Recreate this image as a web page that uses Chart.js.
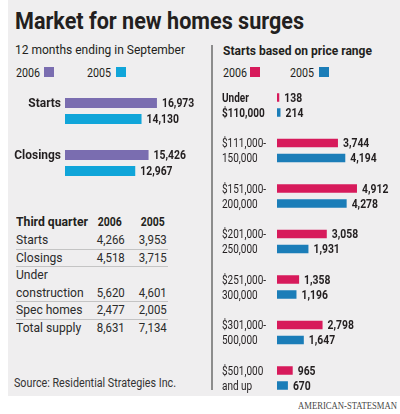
<!DOCTYPE html>
<html>
<head>
<meta charset="utf-8">
<script src="https://cdn.jsdelivr.net/npm/chart.js@4"></script>
<style>
  body { margin: 0; width: 400px; height: 414px; background: #fff; position: relative; overflow: hidden;
         font-family: Roboto, "Open Sans", sans-serif; color: #231f20; }
  .t { position: absolute; white-space: nowrap; line-height: 1; }
  #panel { position: absolute; left: 8px; top: 0; width: 392px; height: 396px; background: #efeeef; }
  #title { left: 15px; top: 10px; font-size: 23px; font-weight: bold; }
  #sub { left: 15px; top: 43px; font-size: 13px; }
  #head2 { left: 223px; top: 44px; font-size: 13px; font-weight: bold; }
  .leg { font-size: 13px; top: 66px; }
  .sw { position: absolute; width: 10px; height: 10px; top: 67px; }
  #divider { position: absolute; left: 211px; top: 45px; width: 1.5px; height: 345px; background: #8c8c8c; }
  .cell { font-size: 13px; color: #2b2b2b; }
  .hd { font-weight: bold; color: #231f20; }
  .rule { position: absolute; left: 16px; width: 152px; height: 1px; background: #c4c4c4; }
  #source { left: 14px; top: 377px; font-size: 12px; color: #333; }
  #foot { left: 298px; top: 401px; font-size: 10px; color: #4a4a4a; font-family: "Liberation Serif", serif; }
  canvas { position: absolute; }
</style>
</head>
<body>
<div id="panel"></div>
<div class="t" id="title">Market for new homes surges</div>
<div class="t" id="sub">12 months ending in September</div>
<div class="t" id="head2">Starts based on price range</div>
<div id="divider"></div>
<div id="legends"></div>
<div id="table"></div>
<div class="t" id="source">Source: Residential Strategies Inc.</div>
<div class="t" id="foot">AMERICAN-STATESMAN</div>
<canvas id="c1" width="210" height="120" style="left:0;top:80px"></canvas>
<canvas id="c2" width="188" height="340" style="left:212px;top:70px"></canvas>
<script>
// 12 months ending in September
const yearCats = ['Starts', 'Closings'];
const year2006 = [16973, 15426];
const year2005 = [14130, 12967];

// starts based on price range
const priceCats = [['Under', '$110,000'], ['$111,000-', '150,000'], ['$151,000-', '200,000'],
  ['$201,000-', '250,000'], ['$251,000-', '300,000'], ['$301,000-', '500,000'], ['$501,000', 'and up']];
const price2006 = [138, 3744, 4912, 3058, 1358, 2798, 965];
const price2005 = [214, 4194, 4278, 1931, 1196, 1647, 670];

// third quarter table
const quarterRows = ['Starts', 'Closings', ['Under', 'construction'], 'Spec homes', 'Total supply'];
const quarter2006 = [4266, 4518, 5620, 2477, 8631];
const quarter2005 = [3953, 3715, 4601, 2005, 7134];

const purple = '#7a6db0', cyan = '#10a5d9', crimson = '#d71a5b', blue = '#1b7db8';

function fit(el, w, origin) {
  el.style.transformOrigin = (origin || 'left') + ' top';
  el.style.transform = 'scaleX(' + (w / el.getBoundingClientRect().width) + ')';
}
function squeeze(el, r, origin) {
  el.style.transformOrigin = (origin || 'left') + ' top';
  el.style.transform = 'scaleX(' + r + ')';
}
function addText(parent, txt, cls, left, top, opts) {
  let d = document.createElement('div');
  d.className = 't ' + cls;
  d.textContent = txt;
  d.style.top = top + 'px';
  if (opts && opts.right != null) d.style.right = (400 - opts.right) + 'px';
  else d.style.left = left + 'px';
  parent.appendChild(d);
  return d;
}

fit(document.getElementById('title'), 289);
fit(document.getElementById('sub'), 170);
fit(document.getElementById('head2'), 149);
fit(document.getElementById('source'), 162);
fit(document.getElementById('foot'), 99);

// legends
let legends = document.getElementById('legends');
[[16, 44, '2006', purple], [87, 116, '2005', cyan], [223, 250, '2006', crimson], [290, 319, '2005', blue]].forEach(l => {
  let t = addText(legends, l[2], 'leg', l[0], 66);
  fit(t, 24);
  let s = document.createElement('div');
  s.className = 'sw';
  s.style.left = l[1] + 'px';
  s.style.background = l[3];
  legends.appendChild(s);
});

// table
let table = document.getElementById('table');
fit(addText(table, 'Third quarter', 'cell hd', 16, 215), 72);
fit(addText(table, '2006', 'cell hd', 0, 215, {right: 122}), 24, 'right');
fit(addText(table, '2005', 'cell hd', 0, 215, {right: 165}), 24, 'right');
let y = 240;
quarterRows.forEach((row, i) => {
  if (i > 0) {
    let r = document.createElement('div');
    r.className = 'rule';
    r.style.top = (y - 9) + 'px';
    table.appendChild(r);
  }
  let lines = Array.isArray(row) ? row : [row];
  lines.forEach((ln, j) => {
    squeeze(addText(table, ln, 'cell', 16, y - 7), 0.93);
    if (j < lines.length - 1) y += 17.5;
  });
  squeeze(addText(table, quarter2006[i].toLocaleString('en-US'), 'cell', 0, y - 7, {right: 125}), 0.88, 'right');
  squeeze(addText(table, quarter2005[i].toLocaleString('en-US'), 'cell', 0, y - 7, {right: 167}), 0.88, 'right');
  y += 17.5;
});

// value and category labels beside the bars
const barLabels = {
  id: 'barLabels',
  afterDatasetsDraw(chart, args, o) {
    const ctx = chart.ctx;
    ctx.save();
    ctx.textBaseline = 'middle';
    ctx.fillStyle = '#231f20';
    chart.data.datasets.forEach((ds, di) => {
      chart.getDatasetMeta(di).data.forEach((bar, i) => {
        let v = ds.data[i].toLocaleString('en-US');
        ctx.font = 'bold 12.5px Roboto';
        ctx.textAlign = 'left';
        ctx.fillText(v, bar.x + 5, bar.y + 1, ctx.measureText(v).width * o.valueSqueeze);
        let lab = o.label(i, di);
        if (!lab) return;
        ctx.font = (lab.bold ? 'bold ' : '') + o.labelSize + 'px Roboto';
        ctx.textAlign = o.align;
        ctx.fillText(lab.text, o.labelX, bar.y + 1, ctx.measureText(lab.text).width * o.labelSqueeze);
      });
    });
    ctx.restore();
  }
};

new Chart('c1', {
  type: 'bar',
  data: {
    labels: yearCats,
    datasets: [
      { data: year2006, backgroundColor: purple, categoryPercentage: 0.615, barPercentage: 0.625 },
      { data: year2005, backgroundColor: cyan, categoryPercentage: 0.615, barPercentage: 0.625 }
    ]
  },
  options: {
    indexAxis: 'y',
    responsive: false,
    animation: false,
    layout: { padding: { left: 65, right: 15, top: 5, bottom: 11 } },
    scales: { x: { display: false, min: 0, max: 24000 }, y: { display: false } },
    plugins: {
      legend: { display: false },
      tooltip: { enabled: false },
      barLabels: {
        valueSqueeze: 0.83, labelSize: 13, labelSqueeze: 0.92, align: 'right', labelX: 61,
        label: (i, di) => di == 0 ? { text: yearCats[i], bold: true } : null
      }
    }
  },
  plugins: [barLabels]
});

new Chart('c2', {
  type: 'bar',
  data: {
    labels: priceCats.map(c => c.join(' ')),
    datasets: [
      { data: price2006, backgroundColor: crimson, categoryPercentage: 0.66, barPercentage: 0.57 },
      { data: price2005, backgroundColor: blue, categoryPercentage: 0.66, barPercentage: 0.57 }
    ]
  },
  options: {
    indexAxis: 'y',
    responsive: false,
    animation: false,
    layout: { padding: { left: 65, right: 3, top: 12.25, bottom: 9.25 } },
    scales: { x: { display: false, min: 0, max: 7370 }, y: { display: false } },
    plugins: {
      legend: { display: false },
      tooltip: { enabled: false },
      barLabels: {
        valueSqueeze: 0.83, labelSize: 12.5, labelSqueeze: 0.8, align: 'left', labelX: 10,
        label: (i, di) => ({ text: priceCats[i][di], bold: i == 0 })
      }
    }
  },
  plugins: [barLabels]
});
</script>
</body>
</html>
